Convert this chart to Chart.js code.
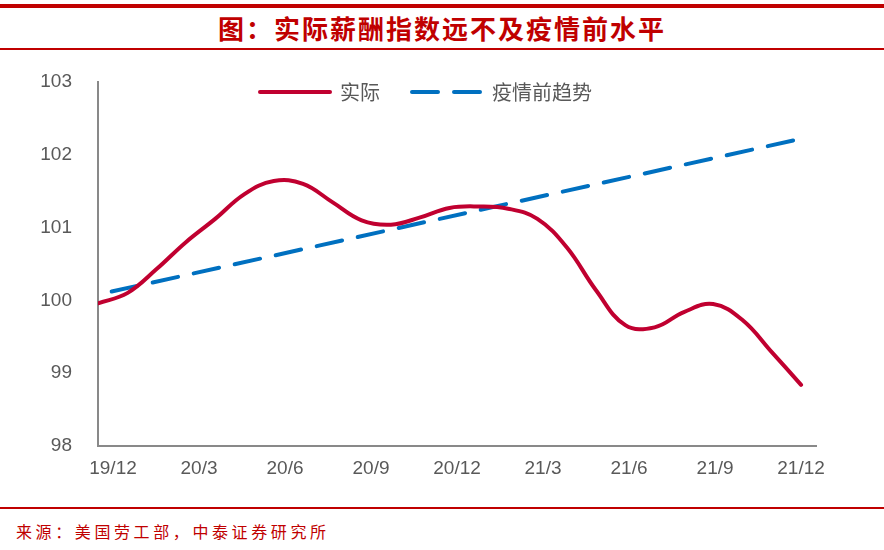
<!DOCTYPE html>
<html>
<head>
<meta charset="utf-8">
<script src="https://cdn.jsdelivr.net/npm/chart.js@4/dist/chart.umd.min.js"></script>
<style>
  body { margin: 0; background: #fff; }
  #page { position: relative; width: 884px; height: 550px; overflow: hidden; font-family: "Noto Sans CJK SC", sans-serif; }
  #topBar { position: absolute; left: 0; top: 4px; width: 884px; height: 4px; background: #C00000; }
  #title { position: absolute; left: 0; top: 10px; width: 884px; text-align: center; font-size: 26px; font-weight: bold; color: #C00000; letter-spacing: 2px; line-height: 36px; }
  #titleLine { position: absolute; left: 0; top: 48px; width: 884px; height: 1.5px; background: #C00000; }
  #box { position: absolute; left: 0; top: 50px; width: 884px; height: 457px; }
  #srcLine { position: absolute; left: 0; top: 507px; width: 884px; height: 1.5px; background: #C00000; }
  #source { position: absolute; left: 16px; top: 519px; font-size: 16px; color: #C00000; letter-spacing: 3.6px; line-height: 24px; }
</style>
</head>
<body>
<div id="page">
  <div id="topBar"></div>
  <div id="title">图：实际薪酬指数远不及疫情前水平</div>
  <div id="titleLine"></div>
  <div id="box"><canvas id="chart"></canvas></div>
  <div id="srcLine"></div>
  <div id="source">来源：美国劳工部，中泰证券研究所</div>
</div>
<script>
// 月度序列：19/12 到 21/12
const tickLabels = ["19/12", "20/3", "20/6", "20/9", "20/12", "21/3", "21/6", "21/9", "21/12"];
const months = [0, 1, 2, 3, 4, 5, 6, 7, 8, 9, 10, 11, 12, 13, 14, 15, 16, 17, 18, 19, 20, 21, 22, 23, 24];
const actual = [99.96, 100.10, 100.43, 100.80, 101.12, 101.46, 101.64, 101.60, 101.35, 101.10, 101.04, 101.14, 101.27,
                101.29, 101.26, 101.12, 100.73, 100.14, 99.66, 99.63, 99.84, 99.95, 99.73, 99.29, 98.84];
const trendMonths = [0, 24];
const trend = [100.08, 102.22];

const tickStep = 2.936;   // 刻度间距（月）
const gray = "#595959";

const ctx = document.getElementById("chart").getContext("2d");

// 图例压进绘图区里（和原图一样放在曲线上方）
const legendInside = {
    id: "legendInside",
    afterLayout(chart) {
        const lg = chart.legend;
        const dy = 0 - lg.top;
        lg.top += dy;
        lg.bottom += dy;
        lg.left += 18;
        lg.right += 18;
    }
};

const chart = new Chart(ctx, {
    type: "line",
    data: {
        datasets: [{
            label: "实际",
            data: months.map((m, i) => ({x: m, y: actual[i]})),
            borderColor: "#C00030",
            borderWidth: 4,
            borderCapStyle: "round",
            pointRadius: 0,
            tension: 0.4
        }, {
            label: "疫情前趋势",
            data: trendMonths.map((m, i) => ({x: m, y: trend[i]})),
            borderColor: "#0070C0",
            borderWidth: 4,
            borderCapStyle: "round",
            borderDash: [26, 16],
            borderDashOffset: 28,
            pointRadius: 0
        }]
    },
    options: {
        responsive: true,
        maintainAspectRatio: false,
        animation: false,
        layout: { padding: { top: -30, right: 68, bottom: 0, left: 0 } },
        plugins: {
            legend: {
                position: "top",
                labels: {
                    usePointStyle: true,
                    pointStyle: "line",
                    pointStyleWidth: 70,
                    boxHeight: 20,
                    padding: 32,
                    color: gray,
                    font: { family: "Noto Sans CJK SC", size: 20 },
                    // 图例里的线也要虚线
                    generateLabels: (chart) =>
                        Chart.defaults.plugins.legend.labels.generateLabels(chart).map((item, i) => ({
                            ...item,
                            lineDash: chart.data.datasets[i].borderDash || [],
                            lineDashOffset: 0,
                            lineCap: "round"
                        }))
                }
            },
            tooltip: { enabled: false }
        },
        scales: {
            x: {
                type: "linear",
                min: 0,
                max: 24.51,
                afterBuildTicks: (axis) => {
                    axis.ticks = tickLabels.map((t, k) => ({value: k * tickStep}));
                },
                afterFit: (s) => { s.height = 61; },
                grid: { display: false, drawTicks: true, tickLength: 7, tickColor: "#898989", tickWidth: 2 },
                border: { color: "#898989", width: 2 },
                ticks: {
                    autoSkip: false,
                    maxRotation: 0,
                    padding: 4,
                    labelOffset: 15,
                    color: gray,
                    font: { family: "Liberation Sans", size: 19 },
                    callback: (v, i) => tickLabels[i]
                }
            },
            y: {
                min: 98,
                max: 103,
                afterFit: (s) => { s.width = 98; },
                grid: { display: false, drawTicks: true, tickLength: 6, tickColor: "#898989", tickWidth: 2 },
                border: { color: "#898989", width: 2 },
                ticks: {
                    stepSize: 1,
                    padding: 20,
                    color: gray,
                    font: { family: "Liberation Sans", size: 19 }
                }
            }
        }
    },
    plugins: [legendInside]
});
</script>
</body>
</html>
